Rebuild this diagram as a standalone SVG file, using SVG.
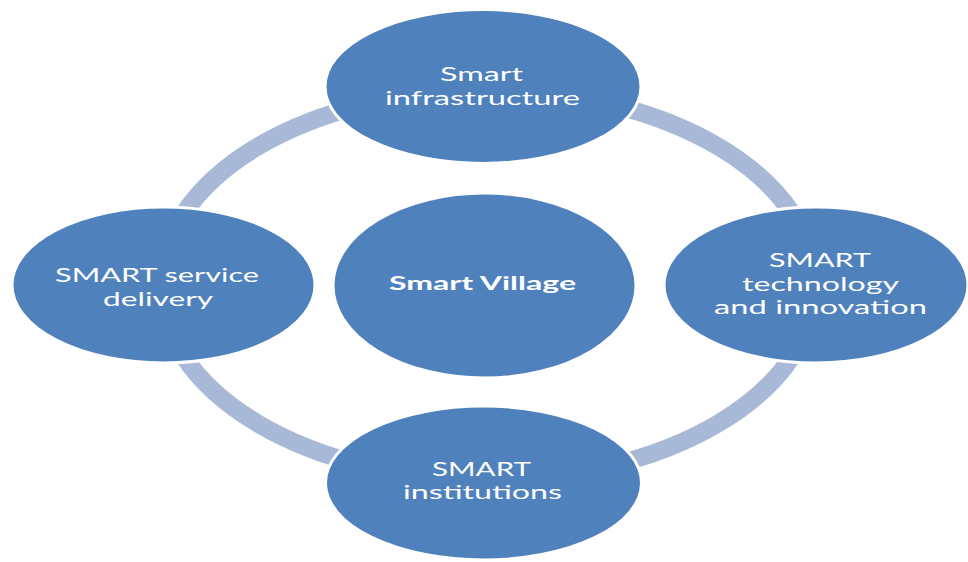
<svg xmlns="http://www.w3.org/2000/svg" width="968" height="562" viewBox="0 0 968 562">
<style>
.node{fill:#4f81bd;stroke:#ffffff;stroke-width:3}
.ring{fill:none;stroke:#a8b9d8;stroke-width:18}
.t{font-family:Lato,"Open Sans","Liberation Sans",sans-serif;font-size:19.5px;fill:#ffffff}
.b{font-family:Lato,"Open Sans","Liberation Sans",sans-serif;font-size:19px;font-weight:bold;fill:#ffffff}
</style>
<rect width="968" height="562" fill="#ffffff"/>
<g id="connectors">
<ellipse class="ring" cx="488" cy="285" rx="327" ry="195"/>
</g>
<g id="node-top">
<ellipse class="node" cx="483" cy="86.5" rx="158" ry="77"/>
<text class="t" x="440" y="81" textLength="83" lengthAdjust="spacingAndGlyphs">Smart</text>
<text class="t" x="385" y="104.5" textLength="195" lengthAdjust="spacingAndGlyphs">infrastructure</text>
</g>
<g id="node-left">
<ellipse class="node" cx="163.5" cy="285" rx="151.5" ry="78"/>
<text class="t" x="55" y="282" textLength="204" lengthAdjust="spacingAndGlyphs">SMART service</text>
<text class="t" x="103" y="305.5" textLength="110" lengthAdjust="spacingAndGlyphs">delivery</text>
</g>
<g id="node-center">
<ellipse class="node" cx="484.5" cy="285.5" rx="151.5" ry="92.5"/>
<text class="b" x="389" y="290" textLength="187" lengthAdjust="spacingAndGlyphs">Smart Village</text>
</g>
<g id="node-right">
<ellipse class="node" cx="816" cy="285" rx="152" ry="78"/>
<text class="t" x="769" y="267" textLength="102" lengthAdjust="spacingAndGlyphs">SMART</text>
<text class="t" x="742" y="290.5" textLength="157" lengthAdjust="spacingAndGlyphs">technology</text>
<text class="t" x="714" y="314" textLength="213" lengthAdjust="spacingAndGlyphs">and innovation</text>
</g>
<g id="node-bottom">
<ellipse class="node" cx="483.5" cy="483" rx="158" ry="77"/>
<text class="t" x="432" y="475.5" textLength="99" lengthAdjust="spacingAndGlyphs">SMART</text>
<text class="t" x="403" y="499" textLength="159" lengthAdjust="spacingAndGlyphs">institutions</text>
</g>
</svg>
